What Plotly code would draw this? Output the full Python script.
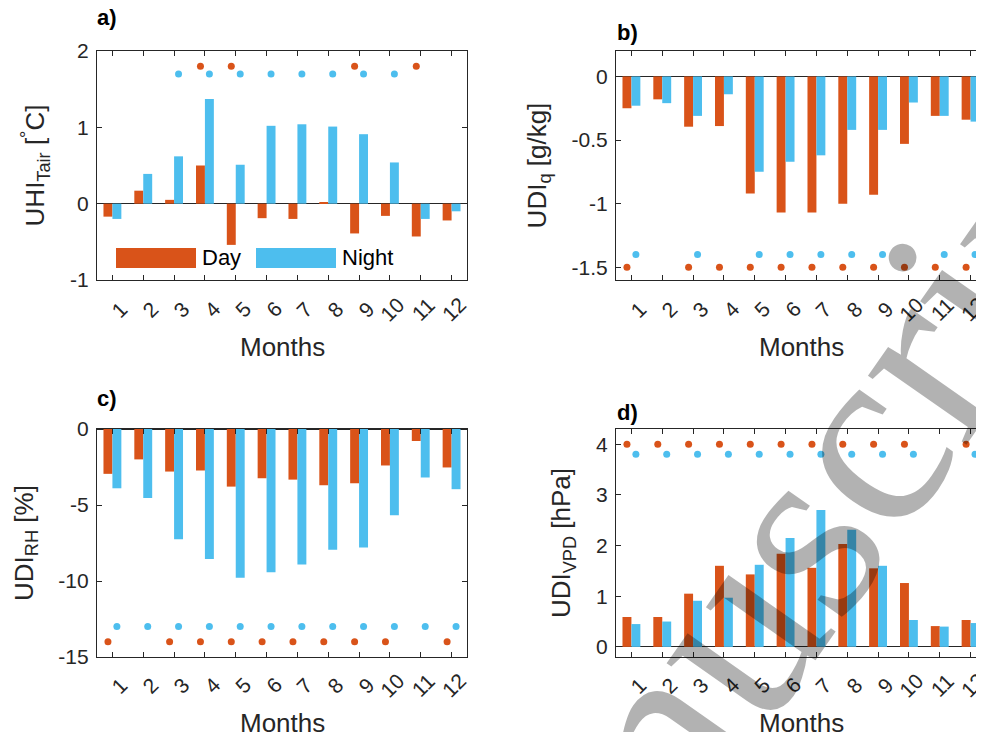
import plotly.graph_objects as go

months = list(range(1, 13))
month_labels = [str(m) for m in months]

# Panel a) UHI Tair [°C]
day_a = [-0.17, 0.17, 0.05, 0.50, -0.54, -0.19, -0.20, 0.02, -0.39, -0.16, -0.43, -0.22]
night_a = [-0.20, 0.39, 0.62, 1.37, 0.51, 1.02, 1.04, 1.01, 0.91, 0.54, -0.20, -0.10]
sig_day_a = [4, 5, 9, 11]
sig_night_a = [3, 4, 5, 6, 7, 8, 9, 10]
yticks_a = [-1, 0, 1, 2]

# Panel b) UDI q [g/kg]
day_b = [-0.25, -0.18, -0.395, -0.39, -0.92, -1.07, -1.07, -1.00, -0.93, -0.53, -0.31, -0.34]
night_b = [-0.23, -0.21, -0.31, -0.14, -0.75, -0.67, -0.62, -0.42, -0.42, -0.205, -0.31, -0.355]
sig_day_b = [1, 3, 4, 5, 6, 7, 8, 9, 10, 11, 12]
sig_night_b = [1, 3, 5, 6, 7, 8, 9, 11, 12]
yticks_b = [-1.5, -1, -0.5, 0]

# Panel c) UDI RH [%]
day_c = [-2.95, -2.0, -2.8, -2.73, -3.79, -3.24, -3.33, -3.70, -3.57, -2.40, -0.79, -2.53]
night_c = [-3.90, -4.54, -7.25, -8.55, -9.78, -9.43, -8.92, -7.95, -7.80, -5.68, -3.19, -3.96]
sig_day_c = [1, 3, 4, 5, 6, 7, 8, 9, 10, 12]
sig_night_c = [1, 2, 3, 4, 5, 6, 7, 8, 9, 10, 11, 12]
yticks_c = [-15, -10, -5, 0]

# Panel d) UDI VPD [hPa]
day_d = [0.59, 0.59, 1.05, 1.60, 1.43, 1.84, 1.56, 2.03, 1.55, 1.26, 0.41, 0.53]
night_d = [0.45, 0.50, 0.91, 0.97, 1.62, 2.15, 2.70, 2.31, 1.60, 0.53, 0.40, 0.47]
sig_day_d = [1, 2, 3, 4, 5, 6, 7, 8, 9, 10, 12]
sig_night_d = [1, 2, 3, 4, 5, 6, 7, 8, 9, 10, 12]
yticks_d = [0, 1, 2, 3, 4]

# significance marker levels (day, night)
lev_a = (1.8, 1.7)
lev_b = (-1.5, -1.4)
lev_c = (-14, -13)
lev_d = (4.0, 3.8)

DAY = "#D95319"
NIGHT = "#4DBEEE"
TXT = "#262626"
PAGE_OFF = 8           # default body margin of the html page
W, H = 984 - PAGE_OFF, 740 - 2 * PAGE_OFF
OFF = 0.145

panels = [
    ("x", "y", day_a, night_a, sig_day_a, sig_night_a, lev_a),
    ("x2", "y2", day_b, night_b, sig_day_b, sig_night_b, lev_b),
    ("x3", "y3", day_c, night_c, sig_day_c, sig_night_c, lev_c),
    ("x4", "y4", day_d, night_d, sig_day_d, sig_night_d, lev_d),
]

fig = go.Figure()
for xa, ya, dv, nv, sd, sn, lev in panels:
    fig.add_trace(go.Bar(x=months, y=dv, name="Day", marker=dict(color=DAY, line=dict(width=0)),
                         xaxis=xa, yaxis=ya))
    fig.add_trace(go.Bar(x=months, y=nv, name="Night", marker=dict(color=NIGHT, line=dict(width=0)),
                         xaxis=xa, yaxis=ya))
    fig.add_trace(go.Scatter(x=[m - OFF for m in sd], y=[lev[0]] * len(sd), mode="markers",
                             marker=dict(color=DAY, size=7), xaxis=xa, yaxis=ya))
    fig.add_trace(go.Scatter(x=[m + OFF for m in sn], y=[lev[1]] * len(sn), mode="markers",
                             marker=dict(color=NIGHT, size=7), xaxis=xa, yaxis=ya))

def px_x(p):
    return (p - PAGE_OFF) / W

def px_y(p):
    return 1 - (p - PAGE_OFF) / H

def ticks(vals):
    return dict(tickvals=vals, ticktext=["%g" % v for v in vals])

left_dom = [px_x(97), px_x(467)]
right_dom = [px_x(616), 1.0]
top_dom = [px_y(280), px_y(51)]
bot_dom = [px_y(657), px_y(429)]
# right panels are cut by the page edge: visible part of [0.5, 12.5]
right_end = 0.5 + 12.0 * (984 - 616) / (986 - 616)

common = dict(showline=True, linecolor=TXT, linewidth=1.2, mirror="ticks", ticks="inside",
              ticklen=5, tickcolor=TXT, tickwidth=1, showgrid=False, automargin=False)
xcommon = dict(common, tickvals=months, showticklabels=False, zeroline=False)
ycommon = dict(common, tickfont=dict(size=21, color=TXT), zeroline=True, zerolinecolor=TXT,
               zerolinewidth=1.2, ticklabelstandoff=3)
ytitle_font = dict(size=26, color=TXT)
SO = 17

fig.update_layout(
    width=W, height=H, margin=dict(l=0, r=0, t=0, b=0), template="none",
    plot_bgcolor="white", paper_bgcolor="white", showlegend=False,
    barmode="group", bargap=0.42, bargroupgap=0,
    font=dict(family="Liberation Sans, Arial, sans-serif", color=TXT),
    xaxis=dict(xcommon, domain=left_dom, anchor="y", range=[0.5, 12.5]),
    yaxis=dict(ycommon, domain=top_dom, anchor="x", range=[-1, 2], **ticks(yticks_a),
               title=dict(text="UHI<sub>Tair</sub> [<sup>°</sup>C]", font=ytitle_font, standoff=SO)),
    xaxis2=dict(xcommon, domain=right_dom, anchor="y2", range=[0.5, right_end]),
    yaxis2=dict(ycommon, domain=top_dom, anchor="x2", range=[-1.6, 0.2], **ticks(yticks_b),
                title=dict(text="UDI<sub>q</sub> [g/kg]", font=ytitle_font, standoff=SO)),
    xaxis3=dict(xcommon, domain=left_dom, anchor="y3", range=[0.5, 12.5]),
    yaxis3=dict(ycommon, domain=bot_dom, anchor="x3", range=[-15, 0], **ticks(yticks_c),
                title=dict(text="UDI<sub>RH</sub> [%]", font=ytitle_font, standoff=SO)),
    xaxis4=dict(xcommon, domain=right_dom, anchor="y4", range=[0.5, right_end]),
    yaxis4=dict(ycommon, domain=bot_dom, anchor="x4", range=[-0.2, 4.3], **ticks(yticks_d),
                title=dict(text="UDI<sub>VPD</sub> [hPa]", font=ytitle_font, standoff=SO)),
)

ann = []
# rotated month tick labels
for xa, ycen in (("x", 309), ("x2", 309), ("x3", 685), ("x4", 685)):
    for m, lab in zip(months, month_labels):
        ann.append(dict(x=m, y=px_y(ycen), xref=xa, yref="paper", text=lab, showarrow=False,
                        textangle=-45, xshift=7 if len(lab) == 1 else 2,
                        font=dict(size=21, color=TXT), xanchor="center", yanchor="middle"))
# x titles
for cx, cy in ((282, 347), (801, 347), (282, 723), (801, 723)):
    ann.append(dict(x=px_x(cx), y=px_y(cy), xref="paper", yref="paper", text="Months",
                    showarrow=False, font=dict(size=26, color=TXT), xanchor="center", yanchor="middle"))
# panel letters
for lab, lx, ly in (("a)", 95, 17), ("b)", 615, 33), ("c)", 95, 398), ("d)", 615, 412)):
    ann.append(dict(x=px_x(lx), y=px_y(ly), xref="paper", yref="paper", text="<b>%s</b>" % lab,
                    showarrow=False, font=dict(size=22, color="black"), xanchor="left", yanchor="middle"))
# legend in panel a
ann.append(dict(x=px_x(200), y=px_y(258), xref="paper", yref="paper", text="Day", showarrow=False,
                font=dict(size=22, color="black"), xanchor="left", yanchor="middle"))
ann.append(dict(x=px_x(340), y=px_y(258), xref="paper", yref="paper", text="Night", showarrow=False,
                font=dict(size=22, color="black"), xanchor="left", yanchor="middle"))
shapes = [
    dict(type="rect", xref="paper", yref="paper", x0=px_x(116), x1=px_x(196), y0=px_y(268), y1=px_y(248),
         fillcolor=DAY, line=dict(width=0)),
    dict(type="rect", xref="paper", yref="paper", x0=px_x(256), x1=px_x(336), y0=px_y(268), y1=px_y(248),
         fillcolor=NIGHT, line=dict(width=0)),
]
# watermark
ann.append(dict(x=px_x(758), y=px_y(589), xref="paper", yref="paper", text="Manuscript", showarrow=False,
                textangle=-55, font=dict(size=262, color="rgba(0,0,0,0.3)",
                                         family="Liberation Serif, Times New Roman, serif"),
                xanchor="center", yanchor="middle"))

fig.update_layout(annotations=ann, shapes=shapes)
fig.write_html("out.html")
